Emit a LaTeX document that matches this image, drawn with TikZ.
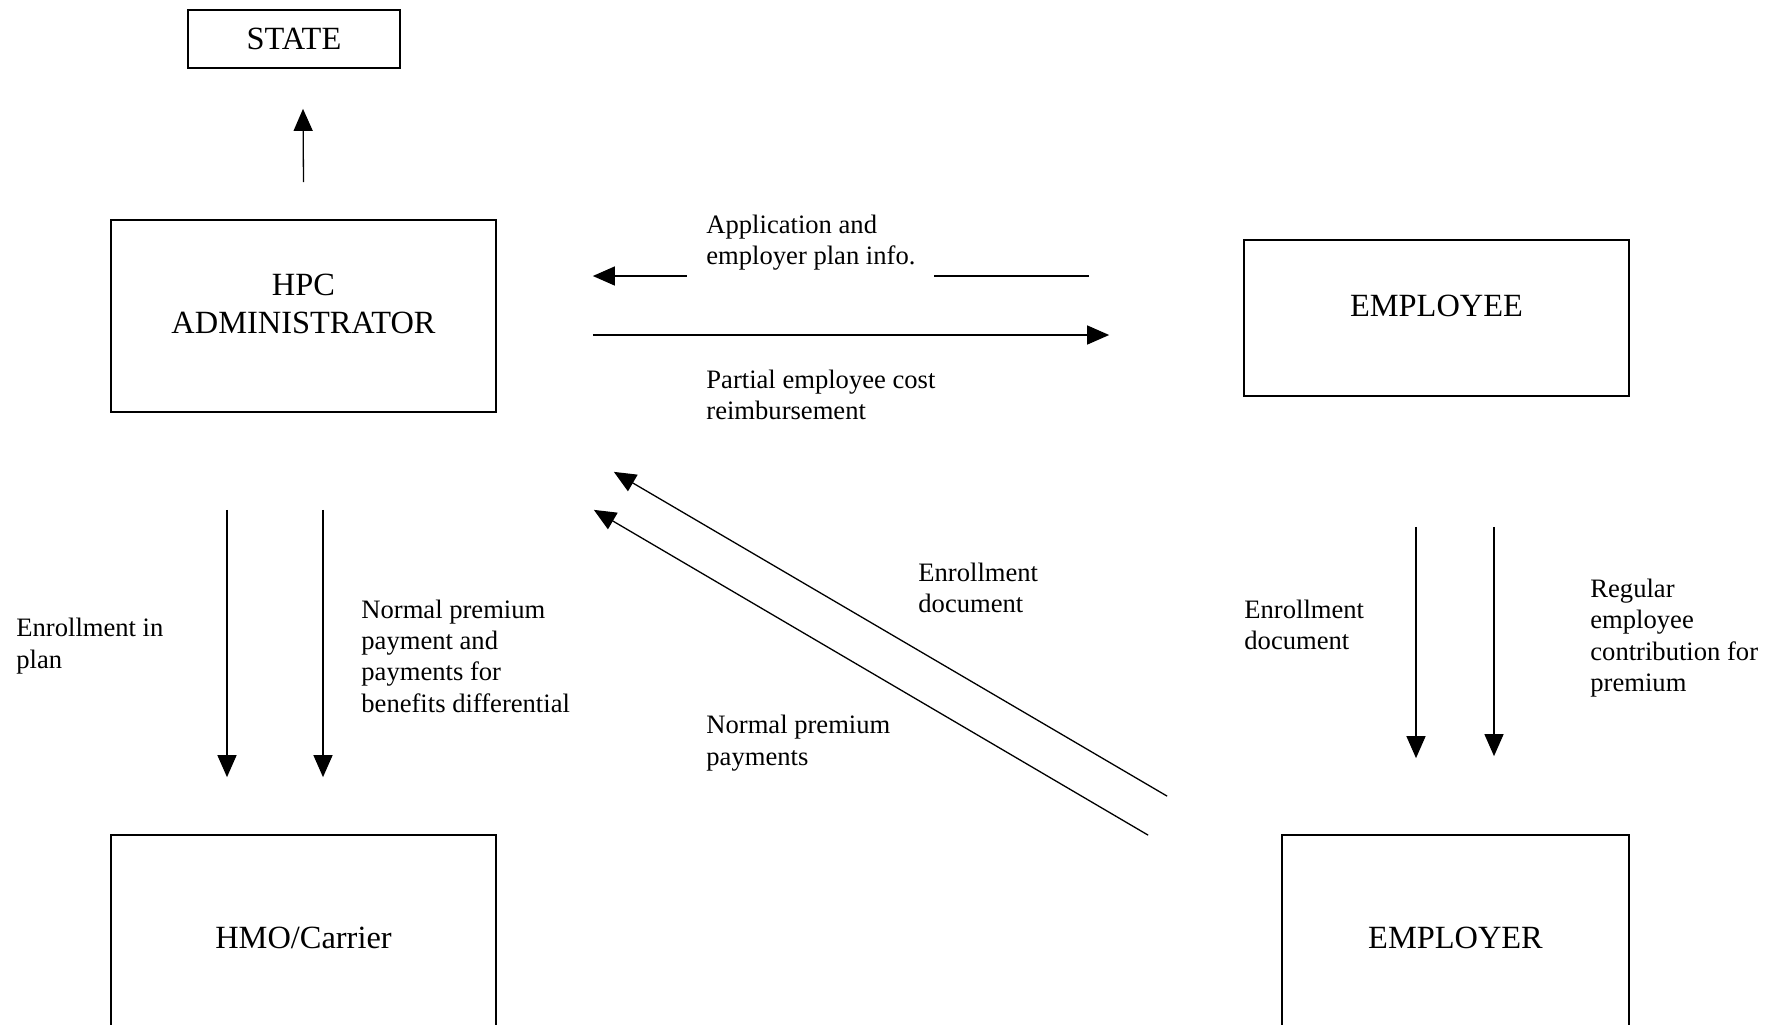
\documentclass[tikz,border=0pt]{standalone}
\usepackage{fontspec}
\setmainfont{Liberation Serif}
\usetikzlibrary{arrows.meta,calc}
\tikzset{
  blok/.style={draw,line width=0.85pt,inner sep=0pt,align=center,
    font=\fontsize{16.2pt}{18.75pt}\selectfont},
  blokniz/.style={blok,text depth=12pt},
  podpis/.style={anchor=west,inner sep=0pt,align=left,
    font=\fontsize{13.3pt}{15.65pt}\selectfont},
  strelka/.style={line width=0.65pt,-{Triangle[length=11pt,width=9.5pt]}}
}
\begin{document}
\begin{tikzpicture}[x=0.5pt,y=-0.5pt]
  \useasboundingbox (0,0) rectangle (1781,1024);
  \clip (0,0) rectangle (1781,1024);
  % boxes
  \node[blok,minimum width=105.75pt,minimum height=29pt] (state) at (294,39) {STATE};
  \node[blokniz,minimum width=192.5pt,minimum height=96pt] (hpc) at (303.5,316) {HPC\\ADMINISTRATOR};
  \node[blokniz,minimum width=192.5pt,minimum height=78pt] (emp) at (1436.5,318) {EMPLOYEE};
  \node[blokniz,minimum width=192.5pt,minimum height=115pt] (hmo) at (303.5,950) {HMO/Carrier};
  \node[blokniz,minimum width=173.5pt,minimum height=115pt] (empr) at (1455.5,950) {EMPLOYER};
  % arrows
  \draw[strelka] ($(hpc.north)+(0,-37)$) -- ($(state.south)+(9,40)$);
  \draw[strelka] ($(emp.west)+(-154,-42)$) -- ($(hpc.east)+(96,-40)$);
  \draw[strelka] ($(hpc.east)+(96,19)$) -- ($(emp.west)+(-134,17)$);
  \draw[strelka] ($(empr.north west)+(-114,-38)$) -- ($(hpc.south east)+(117,59)$);
  \draw[strelka] ($(empr.north west)+(-133,1)$) -- ($(hpc.south east)+(97,97)$);
  \draw[strelka] ($(hpc.south)+(-76.5,97)$) -- ($(hmo.north)+(-76.5,-57)$);
  \draw[strelka] ($(hpc.south)+(19.5,97)$) -- ($(hmo.north)+(19.5,-57)$);
  \draw[strelka] ($(emp.south)+(-20.5,130)$) -- ($(empr.north)+(-39.5,-76)$);
  \draw[strelka] ($(emp.south)+(57.5,130)$) -- ($(empr.north)+(38.5,-78)$);
  % labels
  \node[podpis,fill=white,inner xsep=9.5pt,inner ysep=3.5pt,anchor=south west] (appl) at (687,278) {Application and\\employer plan info.};
  \node[podpis] (partial) at (706,395) {Partial employee cost\\reimbursement};
  \node[podpis] (enrplan) at (16,646) {Enrollment in\\plan};
  \node[podpis] (normpay) at (361,656) {Normal premium\\payment and\\payments for\\benefits differential};
  \node[podpis] (enrdoc) at (918,588) {Enrollment\\document};
  \node[podpis] (normprem) at (706,743) {Normal premium\\payments};
  \node[podpis] (enrdoc2) at (1244,625) {Enrollment\\document};
  \node[podpis] (regular) at (1590,638) {Regular\\employee\\contribution for\\premium};
\end{tikzpicture}
\end{document}
